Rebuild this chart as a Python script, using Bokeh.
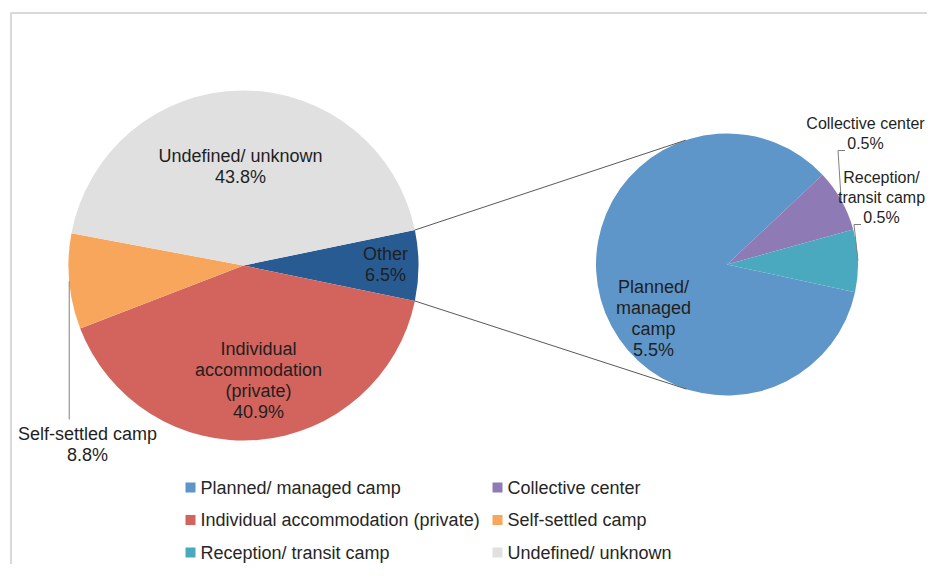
import math
from bokeh.plotting import figure
from bokeh.models import Range1d
from bokeh.core.properties import value
from bokeh.embed import file_html
from bokeh.resources import INLINE

# ---------------- data ----------------
categories = [
    "Planned/ managed camp",
    "Collective center",
    "Individual accommodation (private)",
    "Self-settled camp",
    "Reception/ transit camp",
    "Undefined/ unknown",
]
values = [5.5, 0.5, 40.9, 8.8, 0.5, 43.8]
in_secondary = [True, True, False, False, True, False]
label_names = [
    "Planned/\nmanaged\ncamp",
    "Collective center",
    "Individual\naccommodation\n(private)",
    "Self-settled camp",
    "Reception/\ntransit camp",
    "Undefined/ unknown",
]
other_name = "Other"

# ---------------- style / layout ----------------
colors = ["#5F96C9", "#8E7AB5", "#D2635D", "#F8A65B", "#4BA9BF", "#E0E0E0"]
other_color = "#275B92"
FONT = value("Liberation Sans")
FS = "18px"
FS_SMALL = "16px"
LH = 21.0
LH_SMALL = 20.0

W, H = 927, 564
def Y(screen_y):
    return H - screen_y

C1, R1 = (243.0, Y(265)), 175.0      # main pie
C2, R2 = (726.5, Y(264)), 131.0      # secondary pie
SECOND_START_DEG = -12.2

# label block centres (layout, in screen px)
label_pos = {
    "Undefined/ unknown": (240, 165.5),
    "Other": (385, 264),
    "Individual accommodation (private)": (258, 380),
    "Self-settled camp": (87, 443.5),
    "Planned/ managed camp": (653, 318),
    "Collective center": (865, 133),
    "Reception/ transit camp": (881, 197),
}
small_labels = {"Collective center", "Reception/ transit camp"}

p = figure(width=W, height=H, x_range=Range1d(0, W), y_range=Range1d(0, H),
           x_axis_type=None, y_axis_type=None, output_backend="svg",
           toolbar_location=None, min_border=0)
p.grid.visible = False
p.outline_line_color = None
p.background_fill_color = "white"
p.border_fill_color = "white"

# chart border (top-left corner visible)
p.line([10.5, 10.5, W + 20], [-20, Y(12.5), Y(12.5)], line_color="#D9D9D9", line_width=2)

# ---------------- main pie ----------------
other_val = sum(v for v, s in zip(values, in_secondary) if s)
h = other_val / 100.0 * math.pi
main = [(other_name, other_val, other_color)] + [
    (c, v, col) for c, v, col, s in zip(categories, values, colors, in_secondary) if not s]
starts, ends, cols = [-h], [h], [other_color]
mid_main = {other_name: 0.0}
cur = -h
for name, v, col in main[1:]:
    a = v / 100.0 * 2 * math.pi
    starts.append(cur - a)
    ends.append(cur)
    cols.append(col)
    mid_main[name] = cur - a / 2
    cur -= a
p.wedge(x=C1[0], y=C1[1], radius=R1, start_angle=starts, end_angle=ends,
        fill_color=cols, line_color=None)

# ---------------- secondary pie ----------------
sec = [(c, v, col) for c, v, col, s in zip(categories, values, colors, in_secondary) if s]
s2, e2, c2 = [], [], []
mid_sec = {}
cur = math.radians(SECOND_START_DEG)
for name, v, col in sec:
    a = v / other_val * 2 * math.pi
    s2.append(cur - a)
    e2.append(cur)
    c2.append(col)
    mid_sec[name] = cur - a / 2
    cur -= a
p.wedge(x=C2[0], y=C2[1], radius=R2, start_angle=s2, end_angle=e2,
        fill_color=c2, line_color=None)

# ---------------- connector lines (tangents) ----------------
for sign in (1, -1):
    px = C1[0] + R1 * math.cos(sign * h)
    py = C1[1] + R1 * math.sin(sign * h)
    dx, dy = px - C2[0], py - C2[1]
    d = math.hypot(dx, dy)
    th = math.atan2(dy, dx)
    off = math.acos(R2 / d)
    cands = [th + off, th - off]
    t = max(cands, key=lambda a: sign * math.sin(a))
    tx, ty = C2[0] + R2 * math.cos(t), C2[1] + R2 * math.sin(t)
    p.line([px, tx], [py, ty], line_color="#595959", line_width=1)

# ---------------- leader lines ----------------
lead_col = "#808080"
a = mid_main["Self-settled camp"]
ex, ey = C1[0] + R1 * math.cos(a), C1[1] + R1 * math.sin(a)
p.line([ex, ex], [ey, Y(419)], line_color=lead_col, line_width=1)

pct_half_w = 18.5   # half width of a "0.5%" text at 16px
for key, y_pct in (("Collective center", 143), ("Reception/ transit camp", 217)):
    a = mid_sec[key]
    ex, ey = C2[0] + R2 * math.cos(a), C2[1] + R2 * math.sin(a)
    left = label_pos[key][0] - pct_half_w - 2
    p.line([ex, left - 7, left], [ey, Y(y_pct + 7), Y(y_pct + 7)],
           line_color=lead_col, line_width=1)

# ---------------- data labels ----------------
groups = {FS: ([], [], [], LH), FS_SMALL: ([], [], [], LH_SMALL)}
def add_label(key, text):
    fs = FS_SMALL if key in small_labels else FS
    xs, ys, ts, lh = groups[fs]
    cx, cy = label_pos[key]
    lines = text.split("\n")
    n = len(lines)
    for i, ln in enumerate(lines):
        xs.append(cx)
        ys.append(Y(cy - (n - 1) / 2 * lh + i * lh))
        ts.append(ln)

add_label(other_name, f"{other_name}\n{other_val:.1f}%")
for c, v, ln in zip(categories, values, label_names):
    add_label(c, f"{ln}\n{v:.1f}%")
for fs, (xs, ys, ts, lh) in groups.items():
    p.text(x=xs, y=ys, text=ts, text_font=FONT, text_font_size=fs,
           text_align="center", text_baseline="middle", text_color="#1F1F1F")

# ---------------- legend ----------------
col_sq_x = [190, 497]
col_tx_x = [200, 507]
row_y = [Y(487), Y(519.5), Y(552)]
sqx, sqy, sqc, tx, ty, tt = [], [], [], [], [], []
for i, (c, col) in enumerate(zip(categories, colors)):
    r, k = divmod(i, 2)
    sqx.append(col_sq_x[k]); sqy.append(row_y[r]); sqc.append(col)
    tx.append(col_tx_x[k]); ty.append(row_y[r]); tt.append(c)
p.scatter(x=sqx, y=sqy, marker="square", size=10, fill_color=sqc, line_color=None)
p.text(x=tx, y=ty, text=tt, text_font=FONT, text_font_size=FS,
       text_align="left", text_baseline="middle", text_color="#262626")

open("out.html", "w").write(file_html(p, INLINE))
